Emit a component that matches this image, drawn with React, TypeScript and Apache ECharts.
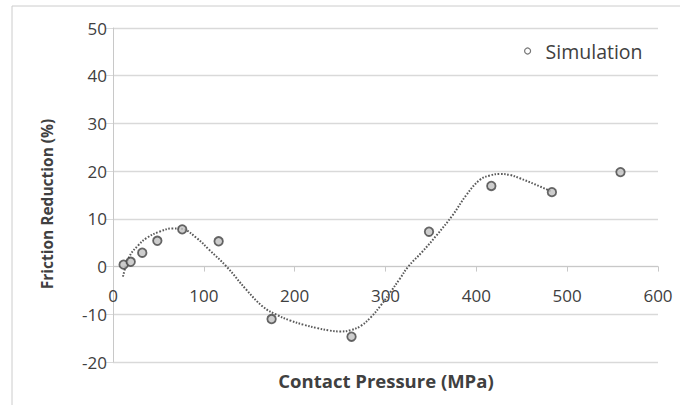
import React, { useEffect, useRef } from "react";
import * as echarts from "echarts";

const simX = [11.7, 19.5, 32.2, 48.8, 76.2, 116.3, 174.6, 262.6, 347.9, 416.5, 483.2, 558.7];
const simY = [0.4, 1.0, 2.9, 5.4, 7.8, 5.3, -11.0, -14.7, 7.3, 16.9, 15.6, 19.8];

const trendX = [11, 18, 28, 37, 51, 66, 76, 92, 106, 125, 147, 165, 180, 195, 210, 225, 238, 250, 262, 273, 284, 295, 306, 316, 325, 340, 356, 374, 389, 404, 415, 426, 437, 448, 465, 483];
const trendY = [-2.1, 2.1, 4.5, 6.0, 7.3, 8.0, 7.9, 6.0, 3.5, 0, -4.9, -8.4, -10.1, -11.3, -12.2, -12.9, -13.4, -13.6, -13.3, -12.4, -10.6, -8.1, -5.2, -2.5, 0, 3.0, 6.5, 10.8, 15.0, 18.2, 19.1, 19.4, 19.2, 18.5, 17.2, 15.7];

const xTitle = "Contact Pressure (MPa)";
const yTitle = "Friction Reduction (%)";
const seriesName = "Simulation";

const FONT = "'Open Sans', sans-serif";

export default function App() {
  const ref = useRef<HTMLDivElement>(null);
  useEffect(() => {
    if (!ref.current) return;
    const chart = echarts.init(ref.current, null, { renderer: "svg" });
    // grid: top 28, height 334, y range -20..50 -> zero line is 95.43px above the bottom
    chart.setOption({
      animation: false,
      backgroundColor: "#ffffff",
      textStyle: { fontFamily: FONT },
      grid: { left: 113, right: 22, top: 28, bottom: 43, containLabel: false },
      legend: {
        data: [{ name: seriesName, icon: "circle" }],
        left: 519,
        top: 36,
        itemWidth: 26,
        itemHeight: 6,
        itemStyle: { color: "#ffffff", borderColor: "#555555", borderWidth: 1.2 },
        textStyle: { fontSize: 19.5, color: "#404040", fontFamily: FONT },
      },
      xAxis: {
        type: "value",
        min: 0,
        max: 600,
        interval: 100,
        position: "bottom",
        offset: -95.43,
        axisLine: { onZero: false, lineStyle: { color: "#c8c8c8", width: 1 } },
        axisTick: { show: true, length: 5, lineStyle: { color: "#c8c8c8" } },
        axisLabel: { margin: 20, fontSize: 17, color: "#404040", fontFamily: FONT },
        splitLine: { show: false },
      },
      yAxis: {
        type: "value",
        min: -20,
        max: 50,
        interval: 10,
        axisLine: { show: true, onZero: false, lineStyle: { color: "#c8c8c8", width: 1 } },
        axisTick: { show: true, length: 7, lineStyle: { color: "#d9d9d9" } },
        axisLabel: { margin: 6, fontSize: 17, color: "#404040", fontFamily: FONT },
        splitLine: { show: true, lineStyle: { color: "#d9d9d9", width: 1.3 } },
      },
      graphic: [
        {
          type: "rect",
          shape: { x: 12, y: 6, width: 800, height: 600 },
          style: { fill: "none", stroke: "#cccccc", lineWidth: 1 },
          silent: true,
        },
        {
          type: "text",
          x: 47,
          y: 204,
          rotation: Math.PI / 2,
          style: {
            text: yTitle,
            fontSize: 15.5,
            fontWeight: "bold",
            fill: "#404040",
            fontFamily: FONT,
            align: "center",
            verticalAlign: "middle",
          },
        },
        {
          type: "text",
          x: 386,
          y: 380,
          style: {
            text: xTitle,
            fontSize: 18.5,
            fontWeight: "bold",
            fill: "#404040",
            fontFamily: FONT,
            align: "center",
            verticalAlign: "middle",
          },
        },
      ],
      series: [
        {
          name: "trend",
          type: "line",
          data: trendX.map((x, i) => [x, trendY[i]]),
          smooth: 0.4,
          showSymbol: false,
          symbol: "none",
          lineStyle: { color: "#595959", width: 2, type: [1.6, 1.6] },
          z: 2,
        },
        {
          name: seriesName,
          type: "scatter",
          data: simX.map((x, i) => [x, simY[i]]),
          symbol: "circle",
          symbolSize: 8.5,
          itemStyle: { color: "#c0c0c0", borderColor: "#444444", borderWidth: 1.8 },
          z: 3,
        },
      ],
    });
    return () => chart.dispose();
  }, []);
  return (
    <div
      ref={ref}
      style={{ position: "fixed", left: 0, top: 0, width: 680, height: 405 }}
    />
  );
}
